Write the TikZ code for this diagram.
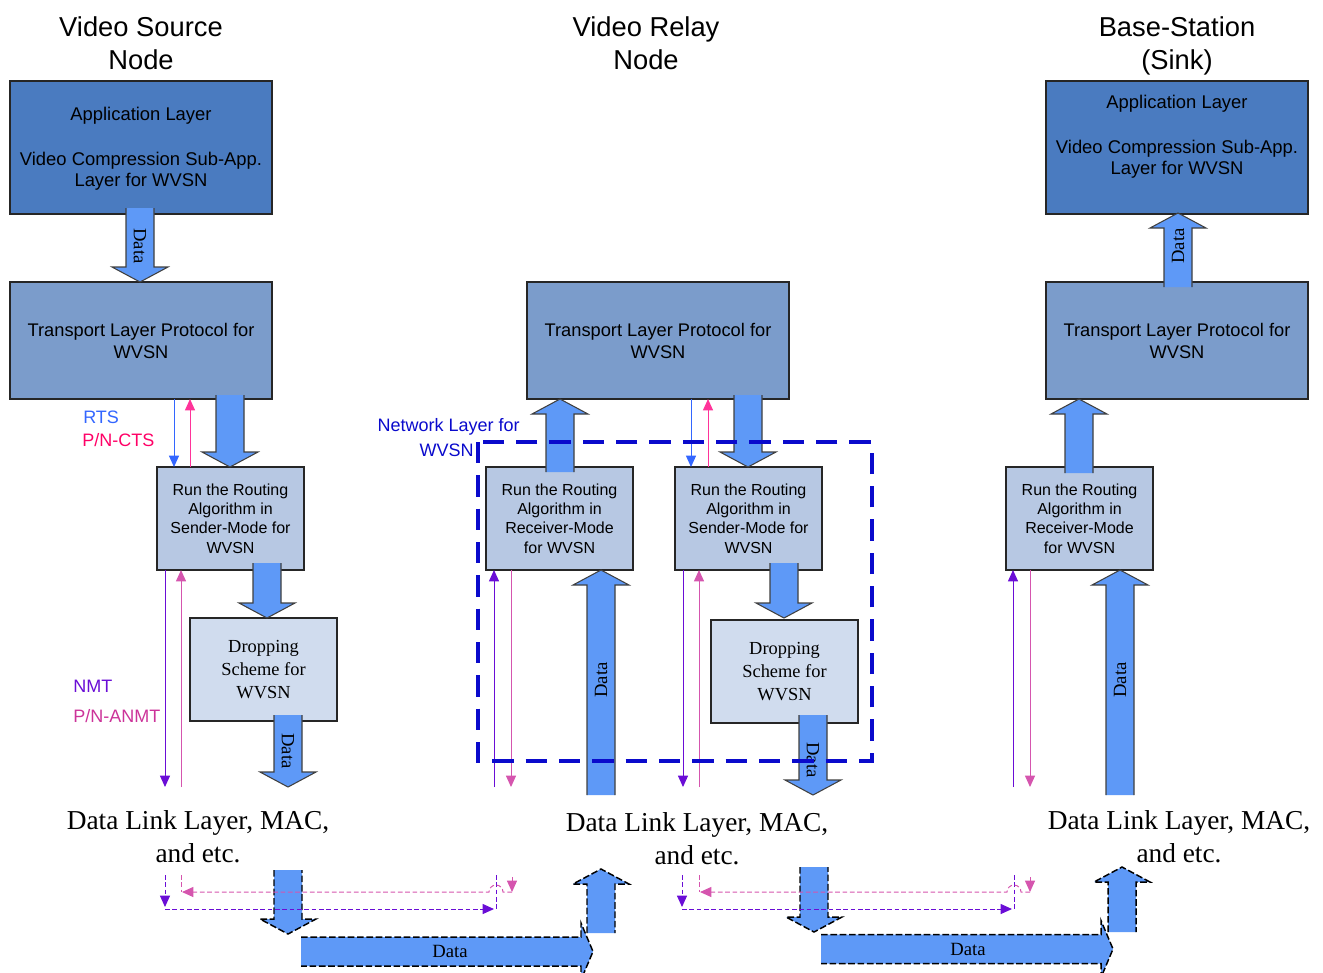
\documentclass[tikz,border=0pt]{standalone}
\usepackage{fontspec}
\setmainfont{Liberation Sans}
\newfontfamily\serifface{Liberation Serif}
\usetikzlibrary{arrows.meta}

\definecolor{appblue}{HTML}{4A7BC0}
\definecolor{trblue}{HTML}{7B9CCB}
\definecolor{rtblue}{HTML}{B7C8E3}
\definecolor{drblue}{HTML}{D0DCEE}
\definecolor{blkfill}{HTML}{5E99F7}
\definecolor{rtscol}{HTML}{3366FF}
\definecolor{ctscol}{HTML}{FF3399}
\definecolor{ctstext}{HTML}{FF0066}
\definecolor{nmtcol}{HTML}{6A0DD6}
\definecolor{anmtcol}{HTML}{D555AE}
\definecolor{anmttext}{HTML}{CC3399}
\definecolor{netblue}{HTML}{0A0ACC}

% block arrows: [outline style]{centre}{tail}{tip}
\newcommand\blkdown[4][blockline]{%
  \fill[blkfill] ({#2-14},#3) -- ({#2-14},{#4-15}) -- ({#2-28},{#4-15}) -- (#2,#4)
    -- ({#2+28},{#4-15}) -- ({#2+14},{#4-15}) -- ({#2+14},#3) -- cycle;
  \draw[#1] ({#2-14},#3) -- ({#2-14},{#4-15}) -- ({#2-28},{#4-15}) -- (#2,#4)
    -- ({#2+28},{#4-15}) -- ({#2+14},{#4-15}) -- ({#2+14},#3);}
\newcommand\blkup[4][blockline]{%
  \fill[blkfill] ({#2-14},#3) -- ({#2-14},{#4+15}) -- ({#2-28},{#4+15}) -- (#2,#4)
    -- ({#2+28},{#4+15}) -- ({#2+14},{#4+15}) -- ({#2+14},#3) -- cycle;
  \draw[#1] ({#2-14},#3) -- ({#2-14},{#4+15}) -- ({#2-28},{#4+15}) -- (#2,#4)
    -- ({#2+28},{#4+15}) -- ({#2+14},{#4+15}) -- ({#2+14},#3);}
\newcommand\blkright[4][blockline]{%
  \fill[blkfill] (#3,{#2-14.5}) -- ({#4-12},{#2-14.5}) -- ({#4-12},{#2-28.5}) -- (#4,#2)
    -- ({#4-12},{#2+28.5}) -- ({#4-12},{#2+14.5}) -- (#3,{#2+14.5}) -- cycle;
  \draw[#1] (#3,{#2-14.5}) -- ({#4-12},{#2-14.5}) -- ({#4-12},{#2-28.5}) -- (#4,#2)
    -- ({#4-12},{#2+28.5}) -- ({#4-12},{#2+14.5}) -- (#3,{#2+14.5});}

\begin{document}
\begin{tikzpicture}[x=0.75pt,y=-0.75pt,
  sz/.style 2 args={minimum width=#1*0.75pt,minimum height=#2*0.75pt},
  box/.style={draw=black!85,line width=0.8pt,inner sep=0pt,outer sep=0pt,align=center},
  appbox/.style={box,fill=appblue},
  trbox/.style={box,fill=trblue,font=\fontsize{13.7}{16.5}\selectfont},
  rtbox/.style={box,fill=rtblue,font=\fontsize{12}{14.6}\selectfont},
  drbox/.style={box,fill=drblue,font=\serifface\fontsize{13.8}{16.9}\selectfont},
  title/.style={align=center,font=\fontsize{20.5}{24.75}\selectfont},
  dlink/.style={align=center,font=\serifface\fontsize{20.5}{24.75}\selectfont},
  datalbl/.style={font=\serifface\fontsize{14}{16}\selectfont,inner sep=0pt},
  siglbl/.style={font=\fontsize{13.5}{16}\selectfont,inner sep=0pt},
  blockline/.style={draw=black!75,line width=0.8pt,line join=miter},
  dashline/.style={draw=black,line width=1.1pt,dash pattern=on 5pt off 2pt,line join=miter},
  tip/.style={-{Triangle[length=8.5pt,width=7.5pt]}},
  rtsline/.style={tip,draw=rtscol,line width=0.75pt},
  ctsline/.style={tip,draw=ctscol,line width=0.75pt},
  nmtline/.style={draw=nmtcol,line width=0.75pt},
  anmtline/.style={draw=anmtcol,line width=0.75pt},
  nmtdash/.style={nmtline,dash pattern=on 3.5pt off 2pt},
  anmtdash/.style={anmtline,dash pattern=on 3.5pt off 2pt},
  netframe/.style={draw=netblue,line width=2.3pt,dash pattern=on 16pt off 9pt}]

\useasboundingbox (0,0) rectangle (1323,972);
\clip (0,0) rectangle (1323,972);

% ---- column headings
\node[title] (tSrc) at (141,43) {Video Source\\Node};
\node[title] (tRel) at (646,43) {Video Relay\\Node};
\node[title] (tSnk) at (1177,46) {Base-Station\\(Sink)};

% ---- source node stack
\node[appbox,sz={262}{133}] (appL) at (141,147.5) {};
\node[align=center,font=\fontsize{13.8}{15.75}\selectfont] (appLt) at (141,149)
  {Application Layer\\[18pt]Video Compression Sub-App.\\Layer for WVSN};
\node[trbox,sz={262}{117}] (trL) at (141,340.5) {Transport Layer Protocol for\\WVSN};
\node[rtbox,sz={147}{103}] (rtL) at (230.5,518.5) {Run the Routing\\Algorithm in\\Sender-Mode for\\WVSN};
\node[drbox,sz={147}{103}] (drL) at (263.5,669.5) {Dropping\\Scheme for\\WVSN};

% ---- relay node stack
\node[trbox,sz={262}{117}] (trM) at (658,340.5) {Transport Layer Protocol for\\WVSN};
\node[rtbox,sz={147}{103}] (rcM) at (559.5,518.5) {Run the Routing\\Algorithm in\\Receiver-Mode\\for WVSN};
\node[rtbox,sz={147}{103}] (snM) at (748.5,518.5) {Run the Routing\\Algorithm in\\Sender-Mode for\\WVSN};
\node[drbox,sz={147}{103}] (drM) at (784.5,671.5) {Dropping\\Scheme for\\WVSN};

% ---- sink stack
\node[appbox,sz={262}{133}] (appR) at (1177,147.5) {};
\node[align=center,font=\fontsize{13.8}{15.75}\selectfont] (appRt) at (1177,137)
  {Application Layer\\[18pt]Video Compression Sub-App.\\Layer for WVSN};
\node[trbox,sz={262}{117}] (trR) at (1177,340.5) {Transport Layer Protocol for\\WVSN};
\node[rtbox,sz={147}{103}] (rcR) at (1079.5,518.5) {Run the Routing\\Algorithm in\\Receiver-Mode\\for WVSN};

% ---- data link layer labels
\node[dlink] (dlL) at (198,837) {Data Link Layer, MAC,\\and etc.};
\node[dlink] (dlM) at (697,839) {Data Link Layer, MAC,\\and etc.};
\node[dlink] (dlR) at (1179,837) {Data Link Layer, MAC,\\and etc.};

% ---- data flow block arrows
\blkdown{140}{208}{282}
\node[datalbl,rotate=-90] (dA) at (140,246) {Data};
\blkdown{230}{395}{467}
\blkdown{267}{563}{618}
\blkdown{288}{715}{787}
\node[datalbl,rotate=-90] (dB) at (288,751) {Data};

\blkup{560}{472}{399}
\blkdown{748}{395}{467}
\blkup{601}{795}{570}
\node[datalbl,rotate=90] (dC) at (601,680) {Data};
\blkdown{784}{563}{618}
\blkdown{813}{715}{795}
\node[datalbl,rotate=-90] (dD) at (813,760) {Data};

\blkup{1178}{287}{213}
\node[datalbl,rotate=90] (dE) at (1178,246) {Data};
\blkup{1079}{473}{399}
\blkup{1120}{795}{570}
\node[datalbl,rotate=90] (dF) at (1120,680) {Data};

% ---- radio hops between nodes
\blkdown[dashline]{288}{870}{934}
\blkright[dashline]{951.5}{301}{593}
\node[datalbl] (dG) at (450,951) {Data};
\blkup[dashline]{601}{933}{869}
\blkdown[dashline]{814}{867}{932}
\blkright[dashline]{949}{821}{1113}
\node[datalbl] (dH) at (968,949) {Data};
\blkup[dashline]{1122}{932}{867}

% ---- control signalling
\node[siglbl,anchor=west,text=rtscol] (lRTS) at (83,417) {RTS};
\node[siglbl,anchor=west,text=ctstext] (lCTS) at (82,440) {P/N-CTS};
\node[siglbl,anchor=west,text=nmtcol] (lNMT) at (73,686) {NMT};
\node[siglbl,anchor=west,text=anmttext] (lANMT) at (73,716) {P/N-ANMT};

\coordinate (eL1) at (165,787);
\coordinate (eL2) at (181,787);
\coordinate (eM1) at (494,787);
\coordinate (eM2) at (511,787);
\coordinate (eM3) at (683,787);
\coordinate (eM4) at (699,787);
\coordinate (eR1) at (1013,787);
\coordinate (eR2) at (1030,787);

\draw[rtsline] (174,0 |- trL.south) -- (174,0 |- rtL.north);
\draw[ctsline] (190,0 |- rtL.north) -- (190,0 |- trL.south);
\draw[nmtline,tip] (165,0 |- rtL.south) -- (eL1);
\draw[anmtline,tip] (eL2) -- (181,0 |- rtL.south);

\draw[rtsline] (691,0 |- trM.south) -- (691,0 |- snM.north);
\draw[ctsline] (708,0 |- snM.north) -- (708,0 |- trM.south);
\draw[nmtline,tip] (eM1) -- (494,0 |- rcM.south);
\draw[anmtline,tip] (511,0 |- rcM.south) -- (eM2);
\draw[nmtline,tip] (683,0 |- snM.south) -- (eM3);
\draw[anmtline,tip] (eM4) -- (699,0 |- snM.south);

\draw[nmtline,tip] (eR1) -- (1013,0 |- rcR.south);
\draw[anmtline,tip] (1030,0 |- rcR.south) -- (eR2);

% ---- dashed signalling below the data link layer
\coordinate (bL1) at (165,875);  \coordinate (bL2) at (181,875);
\coordinate (bM1) at (496,875);  \coordinate (bM2) at (512,877);
\coordinate (bM3) at (682,875);  \coordinate (bM4) at (699,875);
\coordinate (bR1) at (1014,875); \coordinate (bR2) at (1030,877);

\draw[nmtdash,tip] (bL1) -- (165,907);
\draw[nmtdash,tip] (165,909) -- (494,909);
\draw[nmtdash] (bM1) -- (496,909);
\draw[anmtdash,tip] (bM2) -- (512,892);
\draw[anmtdash,tip] (512,892) -- (503,892) arc (0:-180:7) -- (182,892);
\draw[anmtdash] (bL2) -- (181,892);

\draw[nmtdash,tip] (bM3) -- (682,907);
\draw[nmtdash,tip] (682,909) -- (1012,909);
\draw[nmtdash] (bR1) -- (1014,909);
\draw[anmtdash,tip] (bR2) -- (1030,892);
\draw[anmtdash,tip] (1030,892) -- (1021,892) arc (0:-180:7) -- (700,892);
\draw[anmtdash] (bM4) -- (699,892);

% ---- network layer frame of the relay node
\draw[netframe] (478,442) rectangle (872,761);
\node[siglbl,anchor=east,text=netblue] (lNet1) at (520,427) {Network Layer for};
\node[siglbl,anchor=east,text=netblue] (lNet2) at (474,450) {WVSN};

\end{tikzpicture}
\end{document}
